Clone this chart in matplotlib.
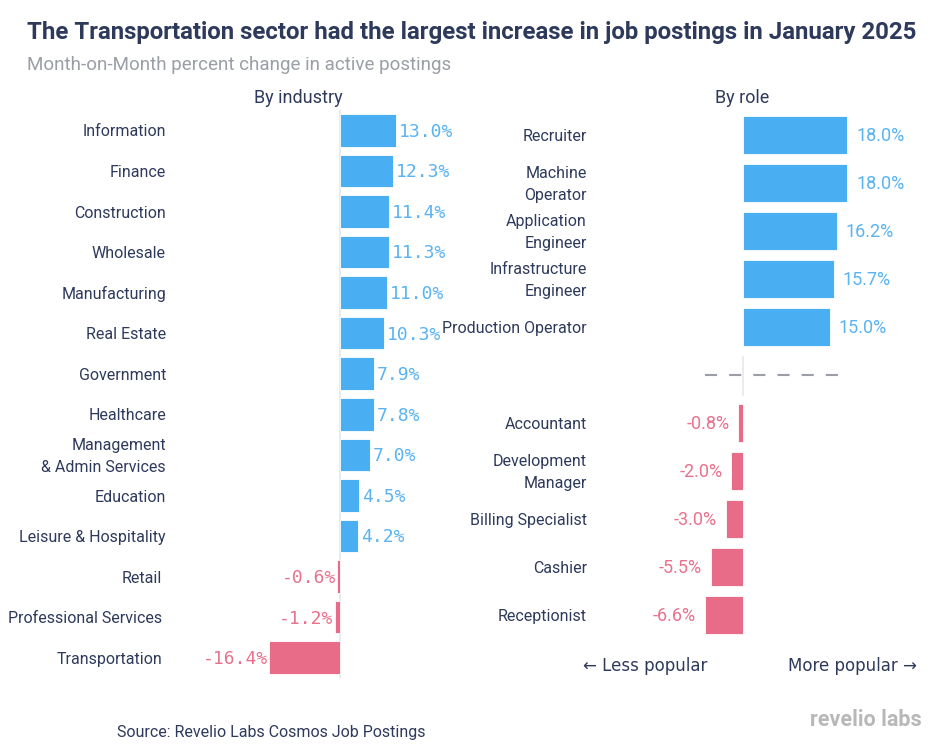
import matplotlib
matplotlib.use("Agg")
import matplotlib.pyplot as plt

industries = ["Information", "Finance", "Construction", "Wholesale", "Manufacturing",
              "Real Estate", "Government", "Healthcare", "Management\n& Admin Services",
              "Education", "Leisure & Hospitality", "Retail", "Professional Services",
              "Transportation"]
industry_vals = [13.0, 12.3, 11.4, 11.3, 11.0, 10.3, 7.9, 7.8, 7.0, 4.5, 4.2, -0.6, -1.2, -16.4]

roles_up = ["Recruiter", "Machine\nOperator", "Application\nEngineer",
            "Infrastructure\nEngineer", "Production Operator"]
roles_up_vals = [18.0, 18.0, 16.2, 15.7, 15.0]
roles_down = ["Accountant", "Development\nManager", "Billing Specialist", "Cashier", "Receptionist"]
roles_down_vals = [-0.8, -2.0, -3.0, -5.5, -6.6]

BLUE = "#4aaef3"
PINK = "#e86c88"
NAVY = "#2e3a5c"
GRAY = "#9a9ea6"

W, H = 943, 750
fig = plt.figure(figsize=(W / 100, H / 100), dpi=100)
plt.rcParams['font.family'] = ['Roboto', 'DejaVu Sans']


def px(x, y):
    return x / W, 1 - y / H


def add_ax(x0, y0, x1, y1):
    return fig.add_axes([x0 / W, 1 - y1 / H, (x1 - x0) / W, (y1 - y0) / H])


# title block
fig.text(*px(27, 33), "The Transportation sector had the largest increase in job postings in January 2025",
         fontsize=17.3, fontweight="bold", color=NAVY, va="center", ha="left")
fig.text(*px(27, 65), "Month-on-Month percent change in active postings",
         fontsize=13.5, color=GRAY, va="center", ha="left")
fig.text(*px(298, 98), "By industry", fontsize=13, color=NAVY, va="center", ha="center")
fig.text(*px(742, 98), "By role", fontsize=13, color=NAVY, va="center", ha="center")

# ---- left panel: industries
ax1 = add_ax(200, 110, 470, 678)
s1 = 4.3
ax1.set_xlim(-(340 - 200) / s1, (470 - 340) / s1)
ax1.set_ylim(len(industries) - 0.5, -0.5)
ax1.axis("off")
ax1.axvline(0, color="#e4e6ea", lw=1.2, zorder=0)
ys = list(range(len(industries)))
cols = [BLUE if v > 0 else PINK for v in industry_vals]
ax1.barh(ys, industry_vals, height=0.8, color=cols, edgecolor="#ffffff", lw=0.6, zorder=2)
tr1 = ax1.get_yaxis_transform().__class__(fig.transFigure, ax1.transData)
for y, v, name in zip(ys, industry_vals, industries):
    c = "#5ab3f2" if v > 0 else "#e8728d"
    if v > 0:
        ax1.annotate(f"{v:.1f}%", (v, y), xytext=(2, -1), textcoords="offset points",
                     ha="left", va="center", fontsize=13, color=c, family="DejaVu Sans Mono")
    else:
        ax1.annotate(f"{v:.1f}%", (v, y), xytext=(-1, -1), textcoords="offset points",
                     ha="right", va="center", fontsize=13, color=c, family="DejaVu Sans Mono")
    lx = 166 if v > 0 else 162
    ax1.annotate(name, (lx / W, y), xycoords=tr1, xytext=(0, -1.2), textcoords="offset points",
                 ha="right", va="center", fontsize=11.5, color=NAVY, linespacing=1.55)

# ---- right panel: roles
ax2 = add_ax(600, 111, 930, 639)
s2 = 5.78
ax2.set_xlim(-(743 - 600) / s2, (930 - 743) / s2)
ax2.set_ylim(10.5, -0.5)
ax2.axis("off")
names = roles_up + [""] + roles_down
vals = roles_up_vals + [None] + roles_down_vals
tr2 = ax1.get_yaxis_transform().__class__(fig.transFigure, ax2.transData)
for y, (name, v) in enumerate(zip(names, vals)):
    if v is None:
        continue
    c = BLUE if v > 0 else PINK
    ax2.barh(y, v, height=0.79, color=c, edgecolor="#ffffff", lw=0.6, zorder=2)
    if v > 0:
        ax2.annotate(f"{v:.1f}%", (v, y), xytext=(6.5, -1), textcoords="offset points",
                     ha="left", va="center", fontsize=13, color="#5ab3f2")
    else:
        ax2.annotate(f"{v:.1f}%", (v, y), xytext=(-6.5, -1), textcoords="offset points",
                     ha="right", va="center", fontsize=13, color="#e8728d")
    ax2.annotate(name, (587 / W, y), xycoords=tr2, xytext=(0, -1.2), textcoords="offset points",
                 ha="right", va="center", fontsize=11.5, color=NAVY, linespacing=1.55)

# separator between gaining and losing roles
ax2.plot([min(roles_down_vals), 16.4], [5, 5], color=GRAY, lw=1.5,
         linestyle=(0, (5.8, 5.8)), zorder=1)
ax2.plot([0, 0], [4.63, 5.42], color="#e6e8ee", lw=1.2, zorder=0)

fig.text(*px(583, 666), "\u2190 Less popular", fontsize=12, color=NAVY, va="center", ha="left",
         family=["DejaVu Sans"])
fig.text(*px(917, 666), "More popular \u2192", fontsize=12, color=NAVY, va="center", ha="right",
         family=["DejaVu Sans"])

fig.text(*px(117, 733), "Source: Revelio Labs Cosmos Job Postings", fontsize=11.5, color=NAVY,
         va="center", ha="left")
fig.text(*px(922, 720), "revelio labs", fontsize=15.5, fontweight="bold", color="#b8b8b8",
         va="center", ha="right")

fig.savefig("out.png", dpi=100)
